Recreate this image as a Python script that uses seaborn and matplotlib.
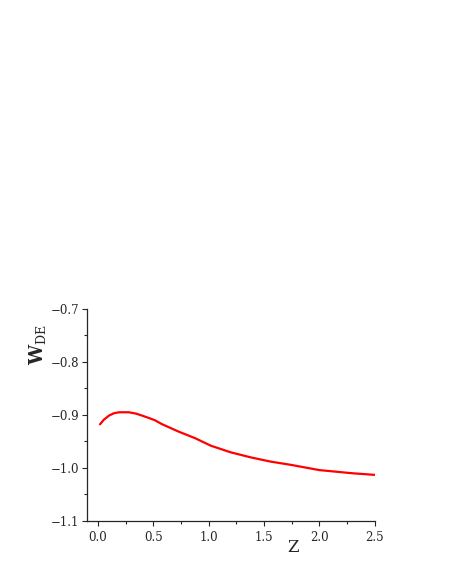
import numpy as np
import pandas as pd
import seaborn as sns
import matplotlib
matplotlib.use('Agg')
import matplotlib.pyplot as plt
from matplotlib.ticker import MultipleLocator

# values
z = [0.02, 0.054, 0.10, 0.145, 0.19, 0.235, 0.28, 0.345, 0.40, 0.46, 0.515,
     0.58, 0.73, 0.88, 1.02, 1.2, 1.38, 1.56, 1.74, 2.0, 2.3, 2.5]
w_de = [-0.9176, -0.909, -0.9013, -0.8968, -0.895, -0.8949, -0.895, -0.8975,
        -0.9013, -0.9057, -0.910, -0.9175, -0.9315, -0.944, -0.958, -0.9705,
        -0.980, -0.988, -0.994, -1.004, -1.010, -1.013]
yticks = [-1.1, -1.0, -0.9, -0.8, -0.7]
xticks = [0.0, 0.5, 1.0, 1.5, 2.0, 2.5]

sns.set_style('ticks')
plt.rcParams['font.family'] = ['DejaVu Serif']
plt.rcParams['mathtext.fontset'] = 'dejavuserif'

df = pd.DataFrame({'z': z, 'w': w_de})

fig = plt.figure(figsize=(4.52, 5.85), dpi=100)
ax = fig.add_axes([0.192, 0.1094, 0.637, 0.3626])
sns.lineplot(data=df, x='z', y='w', color='red', linewidth=1.6, ax=ax)

ax.set_xlim(-0.1, 2.5)
ax.set_ylim(-1.1, -0.7)
ax.set_xticks(xticks)
ax.set_yticks(yticks)
ax.xaxis.set_minor_locator(MultipleLocator(0.25))
ax.yaxis.set_minor_locator(MultipleLocator(0.05))
ax.set_xticklabels([f'{v:.1f}' for v in xticks])
ax.set_yticklabels([f'{v:.1f}'.replace('-', '\u2212') for v in yticks])
ax.tick_params(which='major', direction='out', length=3.5, width=0.8,
               labelsize=8.5, pad=2)
ax.tick_params(axis='x', which='major', pad=4)
ax.tick_params(which='minor', direction='out', length=2, width=0.8)
for s in ['left', 'bottom']:
    ax.spines[s].set_linewidth(0.9)
sns.despine(ax=ax)

ax.set_xlabel('Z', fontsize=12)
ax.xaxis.set_label_coords(0.715, -0.085)
ax.set_ylabel(r'$\mathbf{W}_{\mathrm{DE}}$', fontsize=13)
ax.yaxis.set_label_coords(-0.17, 0.83)
ax.yaxis.label.set_va('center')

fig.savefig('out.png', dpi=100)
